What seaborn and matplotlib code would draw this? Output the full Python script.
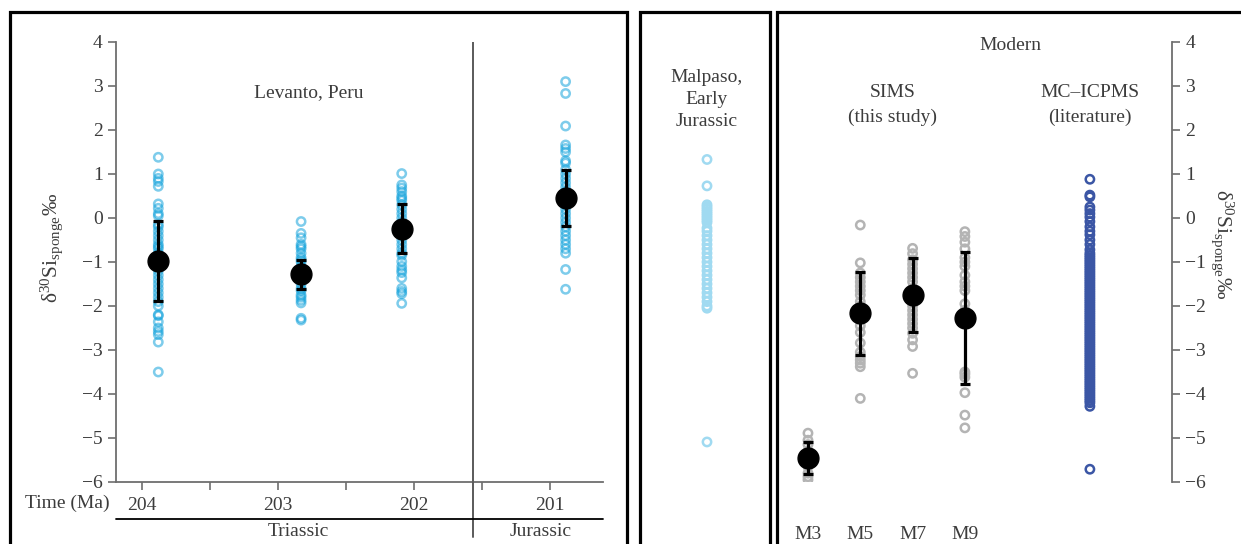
import numpy as np
import pandas as pd
import matplotlib
matplotlib.use("Agg")
import matplotlib.pyplot as plt
from matplotlib.patches import Rectangle
from matplotlib.ticker import MultipleLocator
import seaborn as sns

# ---- data ----
# Levanto, Peru: sample age (Ma) and individual d30Si values
lev_ages = [203.88, 202.83, 202.09, 200.885]
lev_204 = [1.38, 1.0, 0.9, 0.83, 0.72, 0.32, 0.22, 0.1, 0.05, -0.15, -0.2, -0.3, -0.4,
           -0.5, -0.6, -0.65, -0.7, -0.8, -0.9, -1.0, -1.05, -1.1, -1.2, -1.3, -1.4, -1.5,
           -1.6, -1.7, -1.8, -1.9, -2.0, -2.2, -2.22, -2.36, -2.5, -2.58, -2.65, -2.82, -3.5]
lev_203 = [-0.08, -0.35, -0.45, -0.6, -0.65, -0.7, -0.8, -0.9, -0.95, -1.0, -1.1, -1.15,
           -1.2, -1.3, -1.4, -1.5, -1.6, -1.65, -1.75, -1.8, -1.87, -1.93, -2.28, -2.32]
lev_202 = [1.01, 0.75, 0.68, 0.6, 0.5, 0.45, 0.4, 0.3, 0.2, 0.1, 0.0, -0.1, -0.2, -0.3,
           -0.4, -0.5, -0.6, -0.7, -0.8, -0.85, -0.99, -1.1, -1.18, -1.24, -1.36, -1.6,
           -1.67, -1.72, -1.94]
lev_201 = [3.1, 2.83, 2.09, 1.66, 1.58, 1.5, 1.3, 1.25, 1.1, 1.0, 0.9, 0.8, 0.7, 0.6, 0.5,
           0.4, 0.3, 0.2, 0.1, 0.0, -0.1, -0.2, -0.3, -0.4, -0.5, -0.6, -0.7, -0.8, -1.17, -1.62]
lev_mean = [-0.97, -1.28, -0.24, 0.46]
lev_sd = [0.91, 0.33, 0.56, 0.64]

# Malpaso, Early Jurassic
malpaso = [1.33, 0.73, 0.3, 0.25, 0.2, 0.15, 0.1, 0.05, 0.0, -0.05, -0.1, -0.23, -0.3, -0.4,
           -0.5, -0.6, -0.7, -0.8, -0.9, -1.0, -1.1, -1.2, -1.3, -1.4, -1.5, -1.6, -1.7,
           -1.8, -1.9, -2.0, -2.05, -5.09]

# Modern SIMS (this study)
sims_names = ["M3", "M5", "M7", "M9"]
sims_m3 = [-4.89, -5.05, -5.15, -5.3, -5.5, -5.65, -5.8, -5.88, -5.95]
sims_m5 = [-0.16, -1.02, -1.25, -1.35, -1.45, -1.55, -1.65, -1.75, -1.9, -2.0, -2.1, -2.2,
           -2.3, -2.45, -2.6, -2.84, -3.05, -3.15, -3.23, -3.3, -3.38, -4.1]
sims_m7 = [-0.69, -0.81, -0.95, -1.05, -1.15, -1.25, -1.35, -1.45, -1.6, -1.75, -1.9, -2.0,
           -2.1, -2.2, -2.3, -2.4, -2.5, -2.62, -2.77, -2.92, -3.53]
sims_m9 = [-0.31, -0.42, -0.55, -0.7, -0.9, -1.0, -1.1, -1.3, -1.45, -1.55, -1.65, -1.95,
           -2.1, -2.3, -3.5, -3.55, -3.62, -3.97, -4.48, -4.77]
sims_mean = [-5.46, -2.17, -1.75, -2.27]
sims_sd = [0.36, 0.95, 0.83, 1.5]

# Modern MC-ICPMS (literature)
mc_icpms = [0.88, 0.52, 0.48, 0.25, 0.18, 0.1, 0.02, -0.08, -0.2, -0.3, -0.38, -0.5, -0.6,
            -0.72, -0.8, -0.85, -0.9, -0.95, -1.0, -1.05, -1.1, -1.15, -1.2, -1.25, -1.3,
            -1.35, -1.4, -1.45, -1.5, -1.55, -1.6, -1.65, -1.7, -1.75, -1.8, -1.85, -1.9,
            -1.95, -2.0, -2.05, -2.1, -2.15, -2.2, -2.25, -2.3, -2.35, -2.4, -2.45, -2.5,
            -2.55, -2.6, -2.65, -2.7, -2.75, -2.8, -2.85, -2.9, -2.95, -3.0, -3.05, -3.1,
            -3.15, -3.2, -3.25, -3.3, -3.35, -3.4, -3.45, -3.5, -3.55, -3.6, -3.65, -3.7,
            -3.75, -3.8, -3.85, -3.9, -3.95, -4.0, -4.05, -4.1, -4.15, -4.2, -4.28, -5.71]

tj_boundary = 201.566
ylabel = r"δ$^{30}$Si$_{\rm sponge}$‰"

# ---- style ----
sns.set_style("white")
plt.rcParams["font.family"] = ["Liberation Serif", "DejaVu Serif"]
plt.rcParams["mathtext.fontset"] = "custom"
plt.rcParams["mathtext.rm"] = "Liberation Serif"
plt.rcParams["mathtext.it"] = "Liberation Serif:italic"
TXT = "#3c3c3c"
SPINE = "#6e6e6e"
FS = 14

W, H = 1241, 544
fig = plt.figure(figsize=(W / 100, H / 100), dpi=100)


def px_axes(x0, y0, x1, y1):
    # axes from pixel box (top-left origin)
    return fig.add_axes([x0 / W, 1 - y1 / H, (x1 - x0) / W, (y1 - y0) / H])


def ptext(x, y, s, **kw):
    kw.setdefault("fontsize", FS)
    kw.setdefault("color", TXT)
    fig.text(x / W, 1 - y / H, s, ha=kw.pop("ha", "center"), va=kw.pop("va", "center"), **kw)


def rings(ax, x, y, color, alpha=1.0):
    df = pd.DataFrame({"x": x, "y": y})
    sns.scatterplot(data=df, x="x", y="y", ax=ax, s=36, marker="o", facecolor="none",
                    edgecolor=color, linewidth=1.8, alpha=alpha, zorder=3, legend=False)


def means(ax, x, m, sd):
    ax.errorbar(x, m, yerr=sd, fmt="o", color="black", ms=15, elinewidth=2.3,
                capsize=3.5, capthick=2.3, zorder=5)


# ---- panel frames ----
for x0, x1 in [(10, 627), (640, 770), (777, 1260)]:
    fig.patches.append(Rectangle((x0 / W, -0.1), (x1 - x0) / W, 1.1 - 12 / H,
                                 transform=fig.transFigure, fill=False,
                                 edgecolor="black", linewidth=2.3, zorder=0))

# ---- left panel: Levanto, Peru ----
ax = px_axes(116, 42, 603, 482)
for age, vals in zip(lev_ages, [lev_204, lev_203, lev_202, lev_201]):
    rings(ax, [age] * len(vals), vals, "#14a3dc", alpha=0.55)
means(ax, lev_ages, lev_mean, lev_sd)
ax.axvline(tj_boundary, ymin=0, ymax=1, color="#5a5a5a", lw=1.4, zorder=1)
ax.set_xlim(204.191, 200.610)
ax.set_ylim(-6, 4)
ax.xaxis.set_major_locator(MultipleLocator(1))
ax.xaxis.set_minor_locator(MultipleLocator(0.5))
ax.set_yticks(range(-6, 5))
ax.tick_params(axis="both", which="both", direction="out", length=6, width=1.2,
               color=SPINE, labelcolor=TXT, labelsize=FS, bottom=True, left=True)
ax.tick_params(axis="x", pad=5)
ax.set_xlabel("")
ax.set_ylabel("")
for side in ["top", "right"]:
    ax.spines[side].set_visible(False)
for side in ["left", "bottom"]:
    ax.spines[side].set_color(SPINE)
    ax.spines[side].set_linewidth(1.3)
ax.text(202.77, 2.86, "Levanto, Peru", ha="center", va="center", fontsize=FS, color=TXT)

# boundary line continues below the axis into the period bar
fig.add_artist(plt.Line2D([473 / W, 473 / W], [1 - 482 / H, 1 - 537 / H],
                          color="#5a5a5a", lw=1.4))
fig.add_artist(plt.Line2D([116 / W, 603 / W], [1 - 519 / H, 1 - 519 / H],
                          color="black", lw=1.3))
ptext(67, 503, "Time (Ma)")
ptext(298, 532, "Triassic")
ptext(541, 532, "Jurassic")
ptext(52, 248, ylabel, rotation=90, fontsize=15.5)

# ---- middle panel: Malpaso ----
axm = px_axes(652, 42, 762, 482)
rings(axm, [0] * len(malpaso), malpaso, "#a0daf1")
axm.set_xlim(-1, 1)
axm.set_ylim(-6, 4)
axm.axis("off")
ptext(707, 78, "Malpaso,")
ptext(707, 100, "Early")
ptext(707, 122, "Jurassic")

# ---- right panel: Modern ----
axr = px_axes(780, 42, 1172, 482)
for i, vals in enumerate([sims_m3, sims_m5, sims_m7, sims_m9]):
    rings(axr, [i] * len(vals), vals, "#b4b4b4")
means(axr, range(len(sims_names)), sims_mean, sims_sd)
rings(axr, [5.39] * len(mc_icpms), mc_icpms, "#3b56a5")
axr.set_xlim(-0.535, 6.96)
axr.set_ylim(-6, 4)
axr.set_yticks(range(-6, 5))
axr.yaxis.tick_right()
axr.set_xticks(range(len(sims_names)), sims_names)
axr.tick_params(axis="x", length=0, pad=32, labelsize=FS, labelcolor=TXT)
axr.tick_params(axis="y", direction="out", length=6, width=1.2, color=SPINE,
                labelcolor=TXT, labelsize=FS, right=True, left=False)
axr.set_xlabel("")
axr.set_ylabel("")
for side in ["top", "left", "bottom"]:
    axr.spines[side].set_visible(False)
axr.spines["right"].set_color(SPINE)
axr.spines["right"].set_linewidth(1.3)
ptext(1010, 45, "Modern")
ptext(893, 92, "SIMS")
ptext(893, 117, "(this study)")
ptext(1090, 92, "MC–ICPMS")
ptext(1090, 117, "(literature)")
ptext(1222, 244, ylabel, rotation=270, fontsize=15.5)

fig.savefig("out.png", dpi=100)
